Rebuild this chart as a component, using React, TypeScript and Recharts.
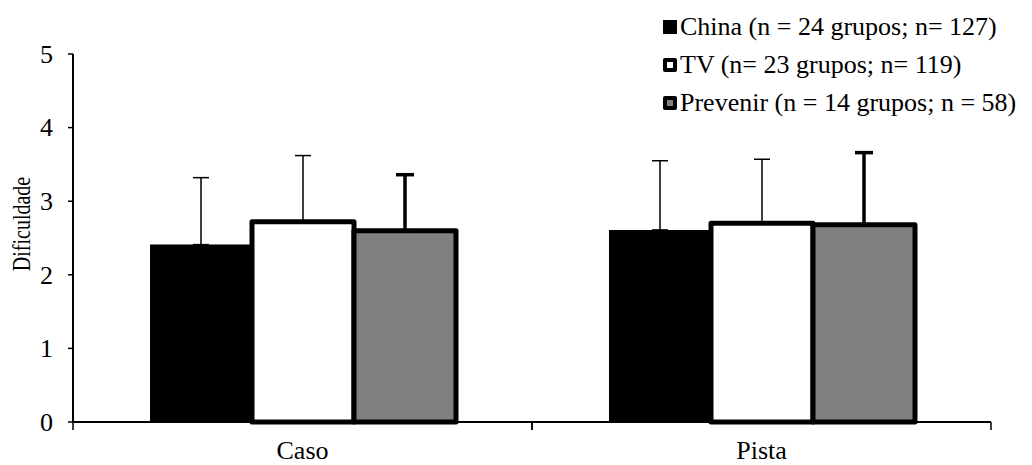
import React from 'react';
import { BarChart, Bar, XAxis, YAxis, ErrorBar, Legend, Label } from 'recharts';

// Group means and standard deviations per condition
const categories = ['Caso', 'Pista'];
const chinaMean = [2.41, 2.61];
const chinaSd = [0.91, 0.94];
const tvMean = [2.72, 2.7];
const tvSd = [0.9, 0.87];
const prevenirMean = [2.6, 2.68];
const prevenirSd = [0.76, 0.98];
const yTicks = [0, 1, 2, 3, 4, 5];

const seriesOrder = ['china', 'tv', 'prevenir'];
const seriesNames = {
  china: 'China (n = 24 grupos; n= 127)',
  tv: 'TV (n= 23 grupos; n= 119)',
  prevenir: 'Prevenir (n = 14 grupos; n = 58)',
};

const rows = categories.map((category, i) => ({
  category,
  china: chinaMean[i],
  chinaErr: [0, chinaSd[i]],
  tv: tvMean[i],
  tvErr: [0, tvSd[i]],
  prevenir: prevenirMean[i],
  prevenirErr: [0, prevenirSd[i]],
}));

const FONT = '"Liberation Serif", "Times New Roman", serif';
const FS = 26;

const markerStyles: Record<string, React.CSSProperties> = {
  china: { background: '#000' },
  tv: { background: '#fff', border: '4px solid #000', borderRadius: 2 },
  prevenir: { background: '#808080', border: '4px solid #000', borderRadius: 2 },
};

function LegendBlock(props: any) {
  const payload = [...(props.payload || [])].sort(
    (a: any, b: any) => seriesOrder.indexOf(a.dataKey) - seriesOrder.indexOf(b.dataKey)
  );
  return (
    <div style={{ position: 'relative', width: 1032, height: 125 }}>
      {payload.map((entry: any, i: number) => (
        <div
          key={entry.dataKey}
          style={{
            position: 'absolute',
            left: 663,
            top: 8 + i * 38,
            height: 38,
            display: 'flex',
            alignItems: 'center',
            whiteSpace: 'nowrap',
          }}
        >
          <span
            style={{
              display: 'inline-block',
              width: 14,
              height: 14,
              boxSizing: 'border-box',
              ...markerStyles[entry.dataKey],
            }}
          />
          <span
            style={{
              display: 'inline-block',
              marginLeft: 3,
              fontFamily: FONT,
              fontSize: FS,
              lineHeight: '38px',
              color: '#000',
            }}
          >
            {entry.value}
          </span>
        </div>
      ))}
    </div>
  );
}

function XTick(props: any) {
  const { x, y, payload } = props;
  const half = payload && payload.offset ? payload.offset : 0;
  return (
    <g>
      <line x1={x - half} y1={y - 8} x2={x - half} y2={y} stroke="#000" strokeWidth={1.5} />
      <line x1={x + half} y1={y - 8} x2={x + half} y2={y} stroke="#000" strokeWidth={1.5} />
      <text x={x} y={y + 29} textAnchor="middle" fontFamily={FONT} fontSize={FS} fill="#000">
        {payload.value}
      </text>
    </g>
  );
}

function YTick(props: any) {
  const { x, y, payload } = props;
  return (
    <text x={x} y={y} textAnchor="end" dy="0.34em" fontFamily={FONT} fontSize={FS} fill="#000">
      {payload.value}
    </text>
  );
}

function YTitle(props: any) {
  const vb = props.viewBox || { x: 0, y: 0, width: 0, height: 0 };
  const cx = vb.x + 30;
  const cy = vb.y + vb.height / 2 - 14;
  return (
    <text
      transform={`translate(${cx},${cy}) rotate(-90) scale(1,1.3)`}
      textAnchor="middle"
      fontFamily={FONT}
      fontSize={20}
      fill="#000"
    >
      Dificuldade
    </text>
  );
}

export default function App() {
  return (
    <div style={{ position: 'absolute', left: 0, top: 0, width: 1032, height: 465, background: '#fff' }}>
      <BarChart
        width={1032}
        height={465}
        data={rows}
        margin={{ top: 54, right: 41, bottom: 0, left: 0 }}
        barCategoryGap={77}
        barGap={0}
      >
        <XAxis
          dataKey="category"
          height={43}
          axisLine={{ stroke: '#000', strokeWidth: 2 }}
          tickLine={false}
          tickSize={8}
          tickMargin={0}
          tick={<XTick />}
          interval={0}
        />
        <YAxis
          width={73}
          domain={[0, 5]}
          ticks={yTicks}
          interval={0}
          axisLine={{ stroke: '#000', strokeWidth: 2 }}
          tickLine={{ stroke: '#000', strokeWidth: 1.5 }}
          tickSize={5}
          tickMargin={15}
          tick={<YTick />}
        >
          <Label content={<YTitle />} />
        </YAxis>
        <Legend
          layout="horizontal"
          verticalAlign="middle"
          align="center"
          wrapperStyle={{ top: 0, left: 0, width: 1032, height: 125 }}
          content={<LegendBlock />}
        />
        <Bar dataKey="china" name={seriesNames.china} fill="#000" isAnimationActive={false}>
          <ErrorBar dataKey="chinaErr" width={8} stroke="#000" strokeWidth={1.5} isAnimationActive={false} />
        </Bar>
        <Bar
          dataKey="tv"
          name={seriesNames.tv}
          fill="#fff"
          stroke="#000"
          strokeWidth={5}
          strokeLinejoin="round"
          isAnimationActive={false}
        >
          <ErrorBar dataKey="tvErr" width={8} stroke="#000" strokeWidth={1.5} isAnimationActive={false} />
        </Bar>
        <Bar
          dataKey="prevenir"
          name={seriesNames.prevenir}
          fill="#808080"
          stroke="#000"
          strokeWidth={5}
          strokeLinejoin="round"
          isAnimationActive={false}
        >
          <ErrorBar dataKey="prevenirErr" width={9} stroke="#000" strokeWidth={3.5} isAnimationActive={false} />
        </Bar>
      </BarChart>
    </div>
  );
}
